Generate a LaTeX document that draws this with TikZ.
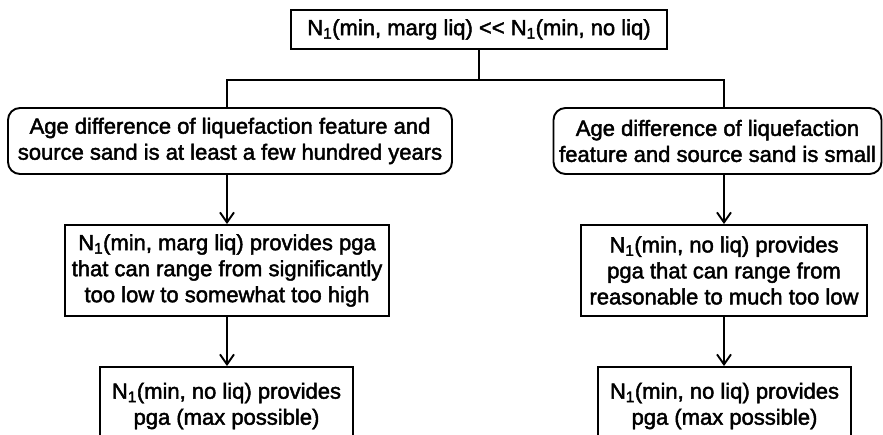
\documentclass[tikz,border=0pt]{standalone}
\usepackage{fontspec}
\setmainfont{Liberation Sans}[FakeBold=2]
\usetikzlibrary{arrows.meta}
\begin{document}
\begin{tikzpicture}[x=1pt,y=-1pt,
  every node/.style={font=\fontsize{22}{26}\selectfont, align=center, inner sep=0pt},
  box/.style={draw, line width=1.9pt},
  rbox/.style={draw, line width=1.9pt, rounded corners=12pt},
  conn/.style={line width=1.9pt},
  arr/.style={line width=1.9pt, -{Straight Barb[length=10pt,width=14pt,line width=1.9pt]}}
]
\useasboundingbox (0,0) rectangle (883,435);
\clip (0,0) rectangle (883,435);
\node[box, minimum width=376pt, minimum height=39pt] (top) at (479,29.5)
  {N\textsubscript{1}(min, marg liq) <{}< N\textsubscript{1}(min, no liq)};
\node[rbox, minimum width=444pt, minimum height=66pt] (a1) at (230,141)
  {Age difference of liquefaction feature and\\ source sand is at least a few hundred years};
\node[rbox, minimum width=328pt, minimum height=66pt] (b1) at (717.5,141)
  {Age difference of liquefaction\\ feature and source sand is small};
\node[box, minimum width=324pt, minimum height=91pt] (a2) at (227,270.5)
  {N\textsubscript{1}(min, marg liq) provides pga\\ that can range from significantly\\ too low to somewhat too high};
\node[box, minimum width=286pt, minimum height=91pt] (b2) at (724,270.5)
  {N\textsubscript{1}(min, no liq) provides\\ pga that can range from\\ reasonable to much too low};
\node[box, minimum width=253pt, minimum height=78pt] (a3) at (226.5,406)
  {N\textsubscript{1}(min, no liq) provides\\ pga (max possible)};
\node[box, minimum width=253pt, minimum height=78pt] (b3) at (724.5,406)
  {N\textsubscript{1}(min, no liq) provides\\ pga (max possible)};
\coordinate (hl) at (0,80);
\draw[conn] (top.south) -- (top.south |- hl);
\draw[conn] (a1.north -| a2.north) -- (a2.north |- hl) -- (b2.north |- hl) -- (b1.north -| b2.north);
\draw[arr] (a1.south -| a2.north) -- (a2.north);
\draw[arr] (b1.south -| b2.north) -- (b2.north);
\draw[arr] (a2.south) -- (a3.north -| a2.south);
\draw[arr] (b2.south) -- (b3.north -| b2.south);
\end{tikzpicture}
\end{document}
